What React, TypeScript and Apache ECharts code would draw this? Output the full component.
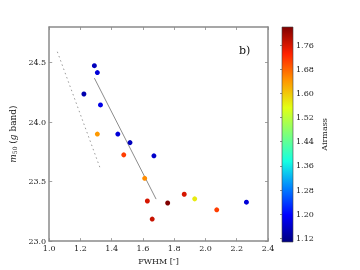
import React, { useEffect, useRef } from "react";
import * as echarts from "echarts";

const fwhm = [1.289, 1.308, 1.222, 1.328, 1.308, 1.439, 1.517, 1.670, 1.477, 1.611, 1.628, 1.758, 1.659, 1.864, 1.931, 2.072, 2.262];
const m50 = [24.475, 24.417, 24.237, 24.145, 23.90, 23.90, 23.828, 23.717, 23.725, 23.528, 23.337, 23.320, 23.185, 23.394, 23.355, 23.263, 23.327];
const airmass = [1.15, 1.17, 1.14, 1.18, 1.64, 1.17, 1.15, 1.16, 1.71, 1.65, 1.76, 1.82, 1.77, 1.76, 1.57, 1.71, 1.17];

const fitLine = [[1.289, 24.37], [1.684, 23.353]];
const refLine = [[1.052, 24.592], [1.324, 23.62]];

const xTicks = [1.0, 1.2, 1.4, 1.6, 1.8, 2.0, 2.2, 2.4];
const yTicks = [23.0, 23.5, 24.0, 24.5];
const cbTicks = [1.12, 1.2, 1.28, 1.36, 1.44, 1.52, 1.6, 1.68, 1.76];
const cbMin = 1.108;
const cbMax = 1.82;

const jet = ["#000080", "#0000ff", "#0080ff", "#14ffe2", "#7bff7b", "#e2ff14", "#ff9700", "#ff2100", "#800000"];

const FONT = "DejaVu Serif";

export default function App() {
  const ref = useRef<HTMLDivElement>(null);
  useEffect(() => {
    if (!ref.current) return;
    const chart = echarts.init(ref.current, undefined, { renderer: "svg" });
    const axisLine = { show: true, lineStyle: { color: "#8a8a8a", width: 1.5 } };
    const tick = { show: true, inside: true, length: 3, lineStyle: { color: "#8a8a8a", width: 0.8 } };
    const lbl = { color: "#222", fontSize: 8, fontFamily: FONT };
    const grid = { left: 45, top: 27, width: 223, height: 215 };
    const cb = { left: 282, top: 27, width: 11, height: 215 };
    const data = fwhm.map((x, i) => [x, m50[i], airmass[i]]);
    chart.setOption({
      animation: false,
      textStyle: { fontFamily: FONT },
      title: {
        text: "b)",
        left: 234,
        top: 40,
        textStyle: { fontSize: 11, fontWeight: "normal", fontFamily: FONT, color: "#111" },
      },
      grid: [
        { ...grid, show: false },
        { ...cb, show: false },
      ],
      xAxis: [
        {
          type: "value", gridIndex: 0, min: 1.0, max: 2.4, interval: 0.2, position: "bottom",
          axisLine, axisTick: { ...tick, customValues: xTicks }, splitLine: { show: false },
          axisLabel: { ...lbl, margin: 3, customValues: xTicks, formatter: (v: number) => v.toFixed(1) },
          name: "FWHM [\u2033]", nameLocation: "middle", nameGap: 15,
          nameTextStyle: { color: "#222", fontSize: 8, fontFamily: FONT },
        },
        {
          type: "value", gridIndex: 0, min: 1.0, max: 2.4, interval: 0.2, position: "top",
          axisLine, axisTick: { ...tick, customValues: xTicks }, axisLabel: { show: false }, splitLine: { show: false },
        },
        { type: "value", gridIndex: 1, min: 0, max: 1, show: false },
      ],
      yAxis: [
        {
          type: "value", gridIndex: 0, min: 23.0, max: 24.8, interval: 0.5, position: "left",
          axisLine, axisTick: { ...tick, customValues: yTicks }, splitLine: { show: false },
          axisLabel: { ...lbl, margin: 3, customValues: yTicks, formatter: (v: number) => v.toFixed(1) },
          name: "{i|m}{s|50} ({i|g} band)", nameLocation: "middle", nameGap: 29, nameRotate: 90,
          nameTextStyle: {
            color: "#222", fontSize: 9, fontFamily: FONT,
            rich: {
              i: { fontStyle: "italic", fontSize: 9, fontFamily: FONT, color: "#222" },
              s: { fontSize: 6, fontFamily: FONT, color: "#222", verticalAlign: "bottom", padding: [4, 0, 0, 0] },
            },
          },
        },
        {
          type: "value", gridIndex: 0, min: 23.0, max: 24.8, interval: 0.5, position: "right",
          axisLine, axisTick: { ...tick, customValues: yTicks }, axisLabel: { show: false }, splitLine: { show: false },
        },
        {
          type: "value", gridIndex: 1, min: cbMin, max: cbMax, position: "right",
          axisLine: { show: false }, splitLine: { show: false },
          axisTick: { show: true, inside: true, length: 2, customValues: cbTicks, lineStyle: { color: "#444", width: 0.6 } },
          axisLabel: { ...lbl, margin: 3, customValues: cbTicks, formatter: (v: number) => v.toFixed(2) },
          name: "Airmass", nameLocation: "middle", nameGap: 27, nameRotate: 90,
          nameTextStyle: { color: "#222", fontSize: 8, fontFamily: FONT },
        },
      ],
      visualMap: {
        show: false, type: "continuous", min: cbMin, max: cbMax, dimension: 2, seriesIndex: 0,
        inRange: { color: jet },
      },
      graphic: [
        {
          type: "rect", z: 10,
          shape: { x: cb.left, y: cb.top, width: cb.width, height: cb.height },
          style: {
            stroke: "#444", lineWidth: 0.6,
            fill: new echarts.graphic.LinearGradient(0, 1, 0, 0,
              jet.map((c, i) => ({ offset: i / (jet.length - 1), color: c }))),
          },
        },
      ],
      series: [
        {
          type: "scatter", xAxisIndex: 0, yAxisIndex: 0, data, symbolSize: 5,
          itemStyle: { opacity: 1 }, z: 5,
        },
        {
          type: "line", xAxisIndex: 0, yAxisIndex: 0, data: fitLine, symbol: "none",
          lineStyle: { color: "#8c8c8c", width: 1 }, z: 3,
        },
        {
          type: "line", xAxisIndex: 0, yAxisIndex: 0, data: refLine, symbol: "none",
          lineStyle: { color: "#9a9a9a", width: 1, type: [1.5, 3] }, z: 3,
        },
      ],
    });
    return () => chart.dispose();
  }, []);
  return <div ref={ref} style={{ position: "fixed", left: 0, top: 0, width: 360, height: 270 }} />;
}
